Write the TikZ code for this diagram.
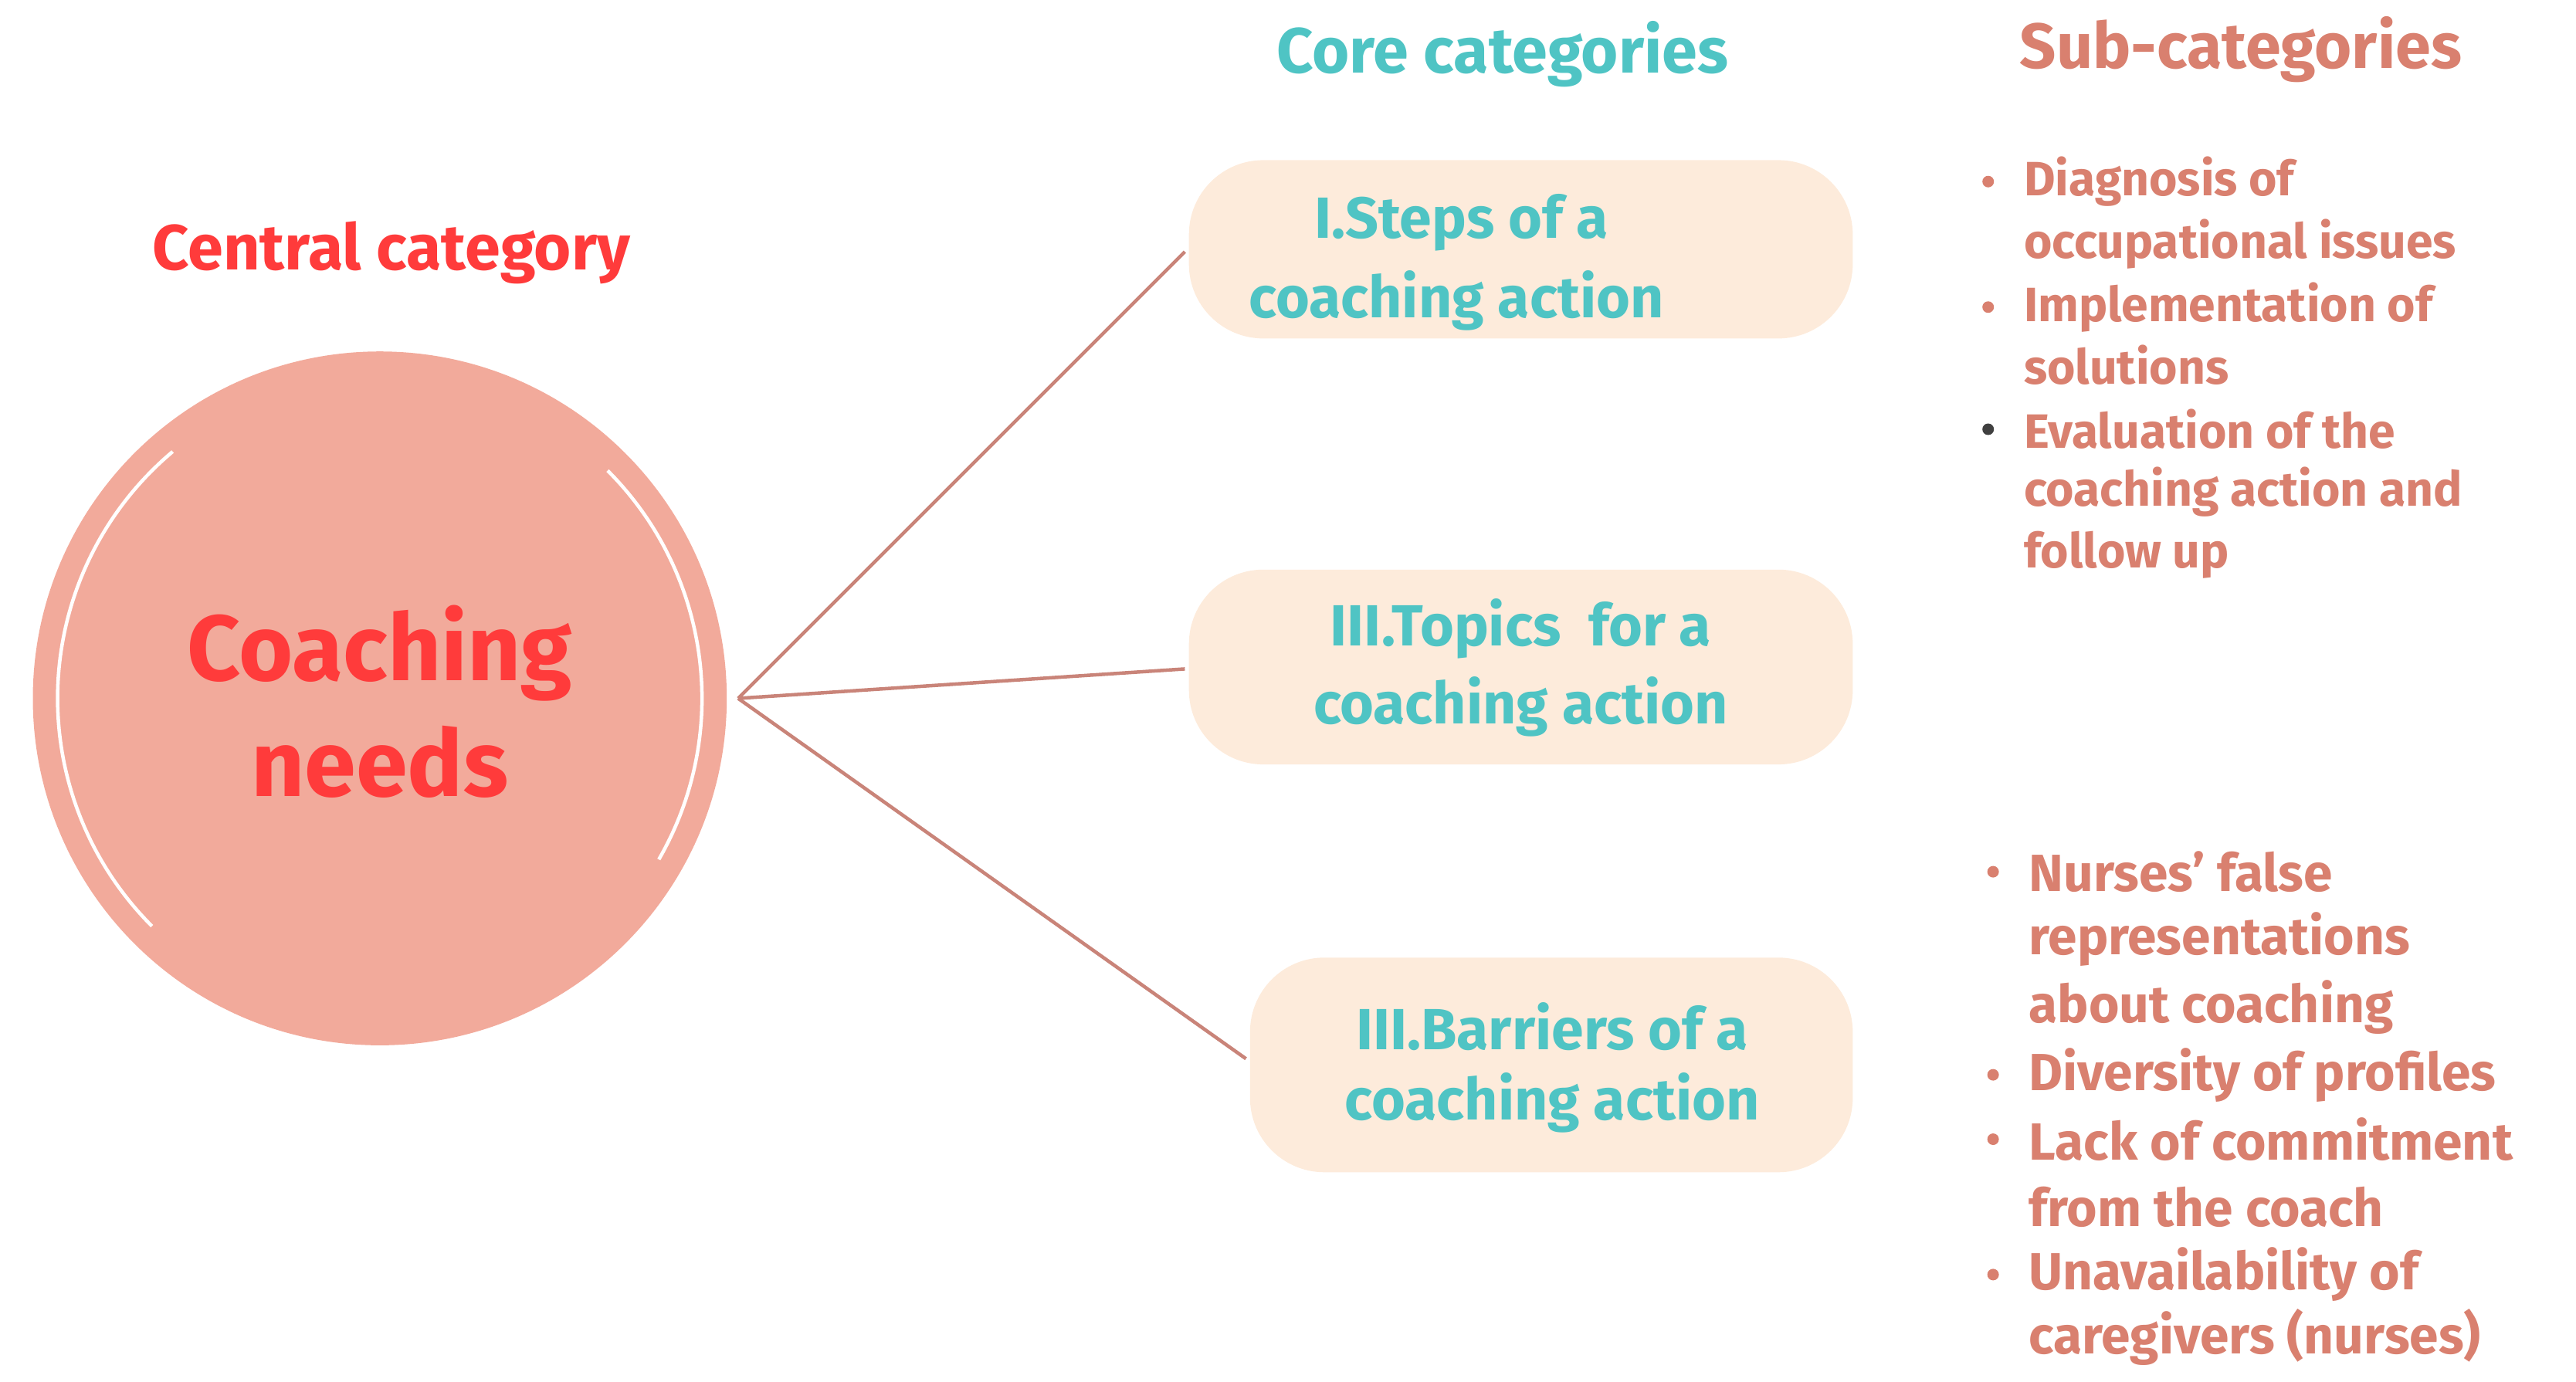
\documentclass[tikz,border=0pt]{standalone}
\usepackage{fontspec}
\setmainfont{Fira Sans}
\definecolor{salmon}{HTML}{F2AA9B}
\definecolor{redt}{HTML}{FF3B3B}
\definecolor{teal}{HTML}{4FC4C4}
\definecolor{subc}{HTML}{D9806F}
\definecolor{boxf}{HTML}{FDEBDB}
\definecolor{linec}{HTML}{C98479}
\begin{document}
\begin{tikzpicture}[x=0.01cm,y=-0.01cm,
  box/.style={fill=boxf,rounded corners=0.45cm,draw=none},
  bt/.style={text=teal,font=\fontsize{10}{12}\selectfont\bfseries,anchor=center,inner sep=0},
  st/.style={text=subc,font=\fontsize{8.3}{10}\selectfont\bfseries,anchor=west,inner sep=0},
  bul/.style={circle,fill=subc,inner sep=0,minimum size=0.07cm},
  con/.style={draw=linec,line width=0.6pt}]
\useasboundingbox (0,0) rectangle (1560,837);
\node[circle,fill=salmon,minimum size=4.2cm,inner sep=0] (c) at (230,423) {};
\draw[white,line width=0.6pt] (230,423) ++(130:1.95cm) arc (130:225:1.95cm);
\draw[white,line width=0.6pt] (230,423) ++(45:1.95cm) arc (45:-30:1.95cm);
\node[text=redt,font=\fontsize{16}{20}\selectfont\bfseries,align=center] (ct) at (230,425) {Coaching\\needs};
\coordinate (hub) at (447,423);
\draw[box] (720,97) rectangle (1122,205); \node[inner sep=0] (b1) at (720,150) {};
\draw[box] (720,345) rectangle (1122,463); \node[inner sep=0] (b2) at (720,405) {};
\draw[box] (757,580) rectangle (1122,710); \node[inner sep=0] (b3) at (757,643) {};
\draw[con] (hub) -- (b1); \draw[con] (hub) -- (b2); \draw[con] (hub) -- (b3);
\node[text=teal,font=\fontsize{11}{13}\selectfont\bfseries] (h1) at (910,33) {Core categories};
\node[text=subc,font=\fontsize{11}{13}\selectfont\bfseries] (h2) at (1357,30) {Sub-categories};
\node[text=redt,font=\fontsize{11}{13}\selectfont\bfseries] (h3) at (237,153) {Central category};
\node[bt] (t1) at (885,135) {I.Steps of a};
\node[bt] (t2) at (882,182) {coaching action};
\node[bt] (t3) at (921,381) {III.Topics\ \ for a};
\node[bt] (t4) at (921,428) {coaching action};
\node[bt] (t5) at (940,622) {III.Barriers of a};
\node[bt] (t6) at (940,668) {coaching action};
\foreach \y/\t [count=\i] in {110/Diagnosis of,148/occupational issues,186/Implementation of,221/solutions,260/Evaluation of the,298/coaching action and,336/follow up}
  \node[st] (s\i) at (1225,\y) {\t};
\node[bul] (p1) at (1204,110) {};
\node[bul] (p2) at (1204,186) {};
\node[bul,fill=darkgray] (p3) at (1204,260) {};
\foreach \y/\t [count=\i] in {528/Nurses' false,569/representations,610/about coaching,651/Diversity of profiles,690/Lack of commitment,731/from the coach,772/Unavailability of,810/caregivers (nurses)}
  \node[st,font=\fontsize{9}{11}\selectfont\bfseries] (r\i) at (1228,\y) {\t};
\foreach \y [count=\i] in {528,651,690,772} \node[bul] (q\i) at (1207,\y) {};
\end{tikzpicture}
\end{document}
